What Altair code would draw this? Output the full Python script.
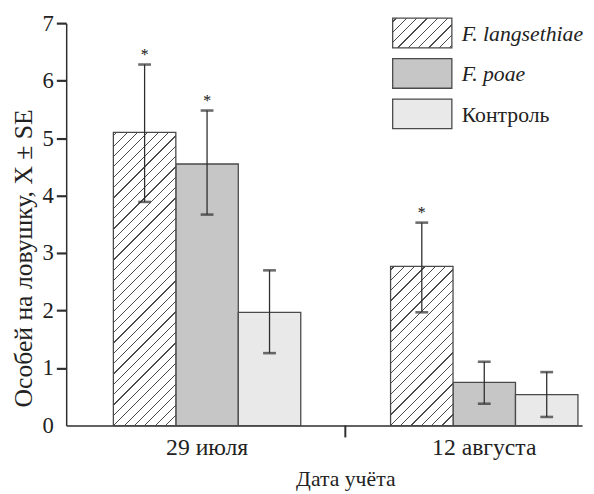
import altair as alt
import pandas as pd

# ---------------- data ----------------
dates = ["29 июля", "12 августа"]
series = ["F. langsethiae", "F. poae", "Контроль"]
means = {"F. langsethiae": [5.10, 2.77], "F. poae": [4.55, 0.75], "Контроль": [1.97, 0.54]}
lower = {"F. langsethiae": [3.89, 1.97], "F. poae": [3.67, 0.38], "Контроль": [1.26, 0.15]}
upper = {"F. langsethiae": [6.28, 3.53], "F. poae": [5.48, 1.11], "Контроль": [2.70, 0.93]}
marked = {"F. langsethiae": [True, True], "F. poae": [True, False], "Контроль": [False, False]}
y_ticks = [0, 1, 2, 3, 4, 5, 6, 7]

# ---------------- style ----------------
SERIF = "Liberation Serif"
INK = "#2e2e2e"
EDGE = "#4a4a4a"
FILLS = ["#ffffff", "#c5c6c5", "#e8e9e8"]
W, H = 523, 408
YMAX = 7

rows = []
for s in series:
    for i, d in enumerate(dates):
        rows.append(dict(date=d, series=s, mean=means[s][i], lo=lower[s][i],
                         hi=upper[s][i], star="*" if marked[s][i] else ""))
df = pd.DataFrame(rows)


def hatch(w, h, spacing=10.5, lw=1.2, ink="#4a4a4a"):
    total = w + h
    k = total / (w * w + h * h)
    stops = []
    pos = 3.0
    while pos < total:
        a = pos / total
        b = min((pos + lw) / total, 1.0)
        stops += [alt.GradientStop(color="#ffffff", offset=a),
                  alt.GradientStop(color=ink, offset=a),
                  alt.GradientStop(color=ink, offset=b),
                  alt.GradientStop(color="#ffffff", offset=b)]
        pos += spacing
    return alt.LinearGradient(gradient="linear", stops=stops,
                              x1=0, y1=0, x2=k * w, y2=k * h)


xscale = alt.Scale(domain=dates, paddingInner=0.324, paddingOuter=0.0925, align=0.92)
xoff = alt.Scale(domain=series, paddingInner=0, paddingOuter=0)
yscale = alt.Scale(domain=[0, YMAX], nice=False, zero=True)

xaxis = alt.Axis(title="Дата учёта", labelAngle=0, ticks=False, domainColor=INK,
                 domainWidth=1.5, labelFont=SERIF, labelFontSize=24, labelColor="#222",
                 labelPadding=10, titleFont=SERIF, titleFontSize=22,
                 titleFontWeight="normal", titleColor="#222", titleX=283, titleY=61,
                 titleBaseline="alphabetic")
yaxis = alt.Axis(title="Особей на ловушку, X ± SE", values=y_ticks, format="d",
                 grid=False, tickSize=10, tickWidth=2.2, tickColor=INK, domainColor=INK,
                 domainWidth=1.5, labelPadding=3, labelFont=SERIF, labelFontSize=23,
                 labelColor="#222", titleFont=SERIF, titleFontSize=26,
                 titleFontWeight="normal", titleColor="#222", titleX=-43, titleY=238,
                 titleBaseline="middle",
                 tickOpacity={"condition": {"test": "datum.value === 0", "value": 0}, "value": 1})

base = alt.Chart(df).encode(
    x=alt.X("date:N", scale=xscale, axis=xaxis, sort=dates),
    xOffset=alt.XOffset("series:N", scale=xoff, sort=series),
)

plain_bars = base.transform_filter(alt.datum.series != series[0]).mark_bar(
    stroke=EDGE, strokeWidth=1.3
).encode(
    y=alt.Y("mean:Q", scale=yscale, axis=yaxis),
    fill=alt.Fill("series:N", scale=alt.Scale(domain=series, range=FILLS), legend=None),
)

band_w = W / (2 - 0.324 + 2 * 0.0925) * (1 - 0.324) / 3
hatched_layers = []
for i, d in enumerate(dates):
    h = means[series[0]][i] * H / YMAX
    hatched_layers.append(
        base.transform_filter((alt.datum.series == series[0]) & (alt.datum.date == d))
        .mark_bar(fill=hatch(band_w, h), stroke=EDGE, strokeWidth=1.3)
        .encode(y=alt.Y("mean:Q", scale=yscale, axis=yaxis))
    )

whisk = base.mark_rule(color=INK, strokeWidth=1.3).encode(
    y=alt.Y("lo:Q", scale=yscale), y2="hi:Q")
cap_hi = base.mark_tick(size=13, thickness=2.6, color=INK).encode(y=alt.Y("hi:Q", scale=yscale))
cap_lo = base.mark_tick(size=13, thickness=2.6, color=INK).encode(y=alt.Y("lo:Q", scale=yscale))
stars = base.transform_filter(alt.datum.star == "*").mark_text(
    font=SERIF, fontSize=16, fill="#111111", baseline="middle", dy=-10
).encode(y=alt.Y("hi:Q", scale=yscale), text="star:N")

one = pd.DataFrame({"k": [0]})
sep_tick = alt.Chart(one).mark_rule(color=INK, strokeWidth=2).encode(
    x=alt.value(283), y=alt.value(H), y2=alt.value(H + 12))

# legend (drawn by hand so the hatched patch can be shown)
leg_x, leg_w, leg_h = 331, 60, 30
leg_tops = [-5, 36, 77]
legend_layers = []
for j, s in enumerate(series):
    fill = hatch(leg_w, leg_h) if j == 0 else FILLS[j]
    legend_layers.append(
        alt.Chart(one).mark_rect(fill=fill, stroke=EDGE, strokeWidth=1.3).encode(
            x=alt.value(leg_x), x2=alt.value(leg_x + leg_w),
            y=alt.value(leg_tops[j]), y2=alt.value(leg_tops[j] + leg_h))
    )
    legend_layers.append(
        alt.Chart(pd.DataFrame({"s": [s]})).mark_text(
            font=SERIF, fontSize=22, fill="#222222", align="left", baseline="middle",
            fontStyle="italic" if j < 2 else "normal"
        ).encode(x=alt.value(leg_x + leg_w + 10), y=alt.value(leg_tops[j] + leg_h / 2 + 1),
                 text="s:N")
    )

chart = alt.layer(
    plain_bars, *hatched_layers, whisk, cap_hi, cap_lo, stars, sep_tick, *legend_layers
).properties(
    width=W, height=H,
    padding={"left": 59, "top": 12, "right": 4, "bottom": 64},
    autosize=alt.AutoSizeParams(type="none"),
).configure_view(stroke=None)

chart.save("out.html", embed_options={"renderer": "svg", "actions": False})
